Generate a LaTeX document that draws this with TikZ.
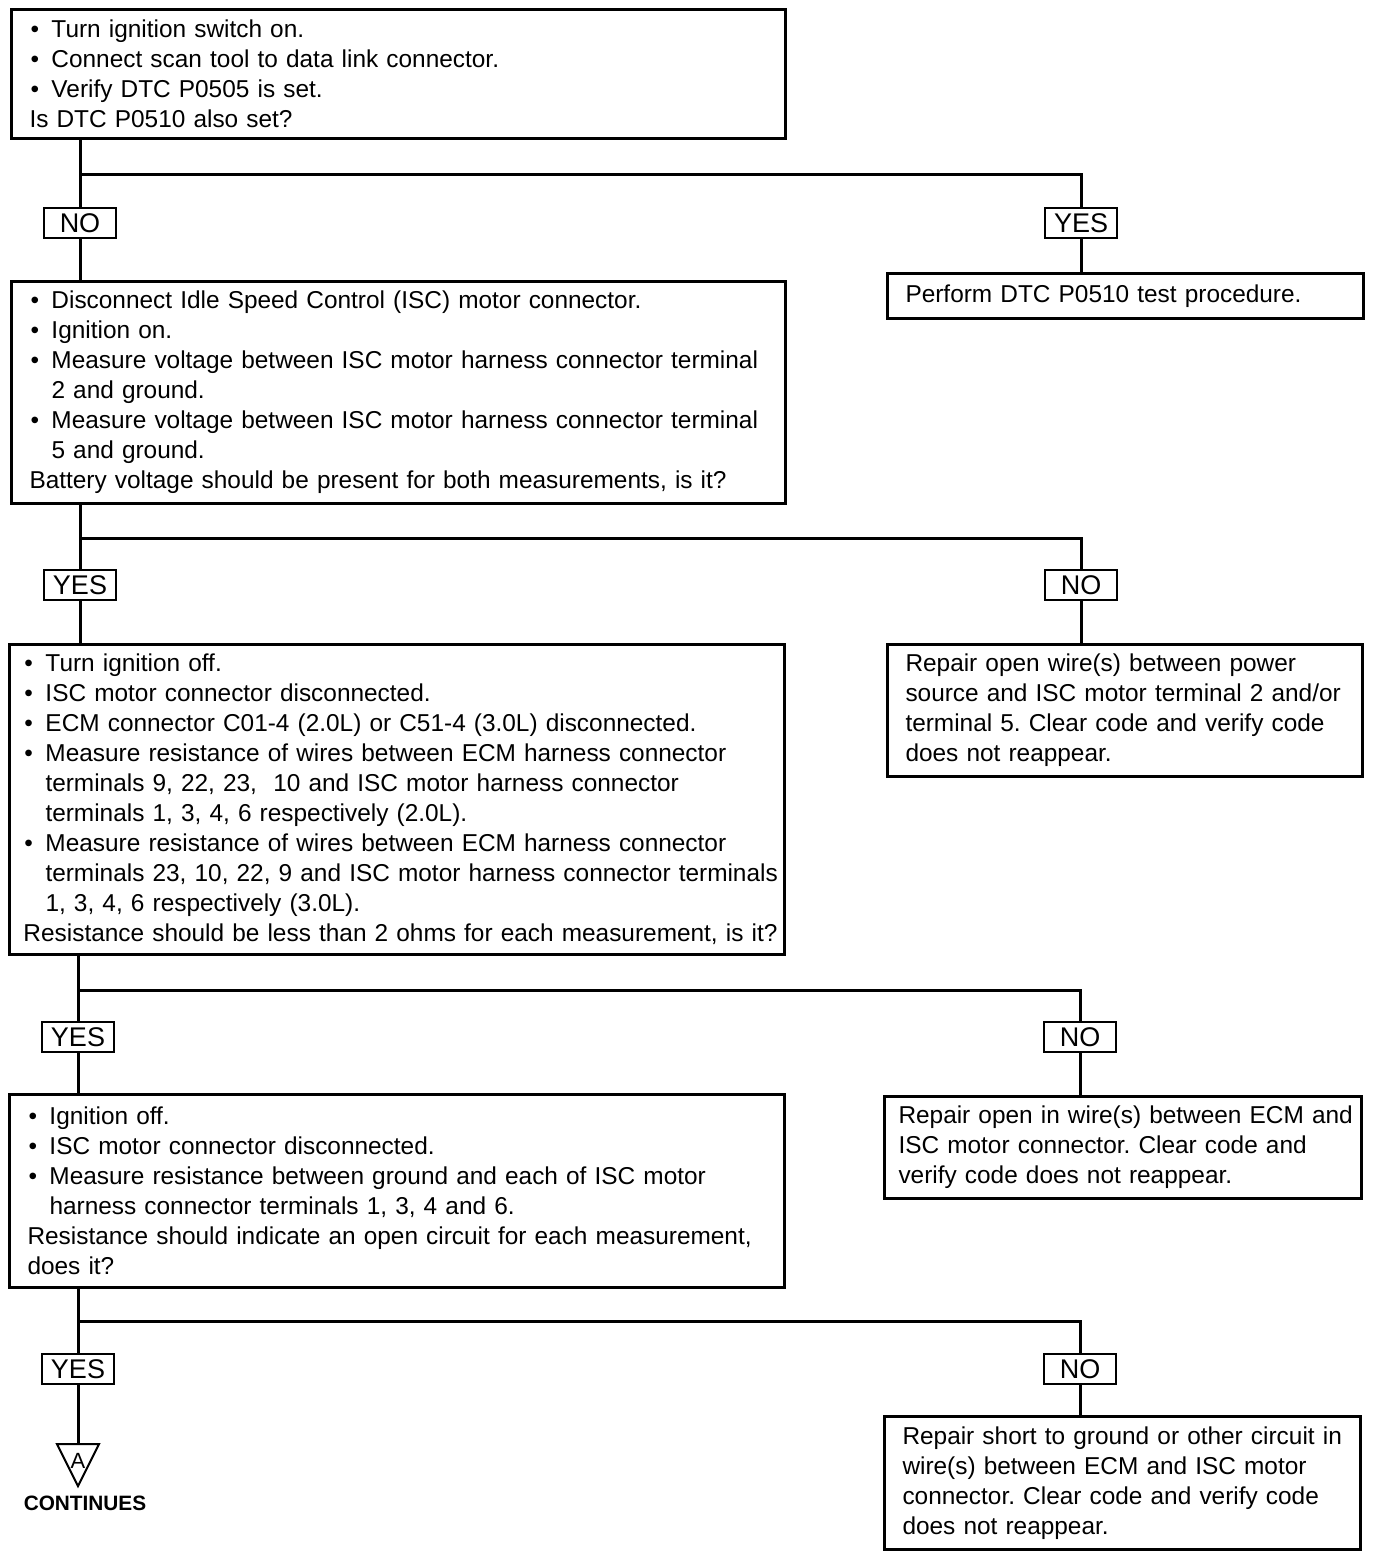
\documentclass[tikz,border=0pt]{standalone}
\usepackage{fontspec}
\setmainfont{Liberation Sans}
\frenchspacing
\newcommand\bl[1]{\mbox{\makebox[11pt][l]{\hspace{0.5pt}\textbullet}#1}}
\newcommand\cl[1]{\mbox{\hspace*{11pt}#1}}
\tikzset{
  stepbox/.style={draw, line width=1.5pt, anchor=north west, align=left,
    inner xsep=9pt, inner ysep=2pt, font=\fontsize{12.2}{15}\selectfont},
  answer/.style={draw, line width=1pt, minimum width=36pt, minimum height=15pt,
    inner sep=0pt, font=\fontsize{13.5}{13.5}\selectfont},
  link/.style={line width=1.5pt}
}
\begin{document}
\begin{tikzpicture}[x=0.5pt,y=-0.5pt]
\useasboundingbox (0,0) rectangle (1376,1556);
% questions (left column)
\node[stepbox, text width=369pt, minimum height=64.5pt] (q1) at (10,8) {%
\bl{Turn ignition switch on.}\\
\bl{Connect scan tool to data link connector.}\\
\bl{Verify DTC P0505 is set.}\\
\mbox{Is DTC P0510 also set?}};
\node[stepbox, text width=369pt, minimum height=111pt] (q2) at (10,280) {%
\bl{Disconnect Idle Speed Control (ISC) motor connector.}\\
\bl{Ignition on.}\\
\bl{Measure voltage between ISC motor harness connector terminal}\\
\cl{2 and ground.}\\
\bl{Measure voltage between ISC motor harness connector terminal}\\
\cl{5 and ground.}\\
\mbox{Battery voltage should be present for both measurements, is it?}};
\node[stepbox, text width=373.5pt, minimum height=155pt, inner xsep=7pt] (q3) at (8,643) {%
\bl{Turn ignition off.}\\
\bl{ISC motor connector disconnected.}\\
\bl{ECM connector C01-4 (2.0L) or C51-4 (3.0L) disconnected.}\\
\bl{Measure resistance of wires between ECM harness connector}\\
\cl{terminals 9, 22, 23,\ \ 10 and ISC motor harness connector}\\
\cl{terminals 1, 3, 4, 6 respectively (2.0L).}\\
\bl{Measure resistance of wires between ECM harness connector}\\
\cl{terminals 23, 10, 22, 9 and ISC motor harness connector terminals}\\
\cl{1, 3, 4, 6 respectively (3.0L).}\\
\mbox{Resistance should be less than 2 ohms for each measurement, is it?}};
\node[stepbox, text width=369.5pt, minimum height=96.5pt] (q4) at (8,1093) {%
\bl{Ignition off.}\\
\bl{ISC motor connector disconnected.}\\
\bl{Measure resistance between ground and each of ISC motor}\\
\cl{harness connector terminals 1, 3, 4 and 6.}\\
\mbox{Resistance should indicate an open circuit for each measurement,}\\
\mbox{does it?}};
% repairs (right column)
\node[stepbox, text width=220pt, minimum height=22.5pt] (r1) at (886,272) {%
\mbox{Perform DTC P0510 test procedure.}};
\node[stepbox, text width=219.5pt, minimum height=66pt] (r2) at (886,643) {%
\mbox{Repair open wire(s) between power}\\
\mbox{source and ISC motor terminal 2 and/or}\\
\mbox{terminal 5. Clear code and verify code}\\
\mbox{does not reappear.}};
\node[stepbox, text width=224.5pt, minimum height=51pt, inner xsep=7pt] (r3) at (883,1095) {%
\mbox{Repair open in wire(s) between ECM and}\\
\mbox{ISC motor connector. Clear code and}\\
\mbox{verify code does not reappear.}};
\node[stepbox, text width=220pt, minimum height=66.5pt] (r4) at (883,1415) {%
\mbox{Repair short to ground or other circuit in}\\
\mbox{wire(s) between ECM and ISC motor}\\
\mbox{connector. Clear code and verify code}\\
\mbox{does not reappear.}};
% answers
\node[answer] (n1) at (80,223) {NO};
\node[answer] (y1) at (1081,223) {YES};
\node[answer] (y2) at (80,585) {YES};
\node[answer] (n2) at (1081,585) {NO};
\node[answer] (y3) at (78,1037) {YES};
\node[answer] (n3) at (1080,1037) {NO};
\node[answer] (y4) at (78,1369) {YES};
\node[answer] (n4) at (1080,1369) {NO};
% branch points
\coordinate (b1) at (80,175);
\coordinate (b2) at (80,538);
\coordinate (b3) at (78,990);
\coordinate (b4) at (78,1321);
\coordinate (tA) at (78,1444);
% connectors
\draw[link] (n1 |- q1.south) -- (n1.north);
\draw[link] (n1.south) -- (n1 |- q2.north);
\draw[link] (b1) -| (y1.north);
\draw[link] (y1.south) -- (y1 |- r1.north);
\draw[link] (y2 |- q2.south) -- (y2.north);
\draw[link] (y2.south) -- (y2 |- q3.north);
\draw[link] (b2) -| (n2.north);
\draw[link] (n2.south) -- (n2 |- r2.north);
\draw[link] (y3 |- q3.south) -- (y3.north);
\draw[link] (y3.south) -- (y3 |- q4.north);
\draw[link] (b3) -| (n3.north);
\draw[link] (n3.south) -- (n3 |- r3.north);
\draw[link] (y4 |- q4.south) -- (y4.north);
\draw[link] (y4.south) -- (tA);
\draw[link] (b4) -| (n4.north);
\draw[link] (n4.south) -- (n4 |- r4.north);
% continuation mark
\draw[line width=1pt, line join=miter] (57,1444) -- (99,1444) -- (78,1486) -- cycle;
\node[font=\fontsize{11}{11}\selectfont, inner sep=0pt] (la) at (78,1461) {A};
\node[font=\bfseries\fontsize{10.4}{10.4}\selectfont] (cont) at (85,1503) {CONTINUES};
\end{tikzpicture}
\end{document}
